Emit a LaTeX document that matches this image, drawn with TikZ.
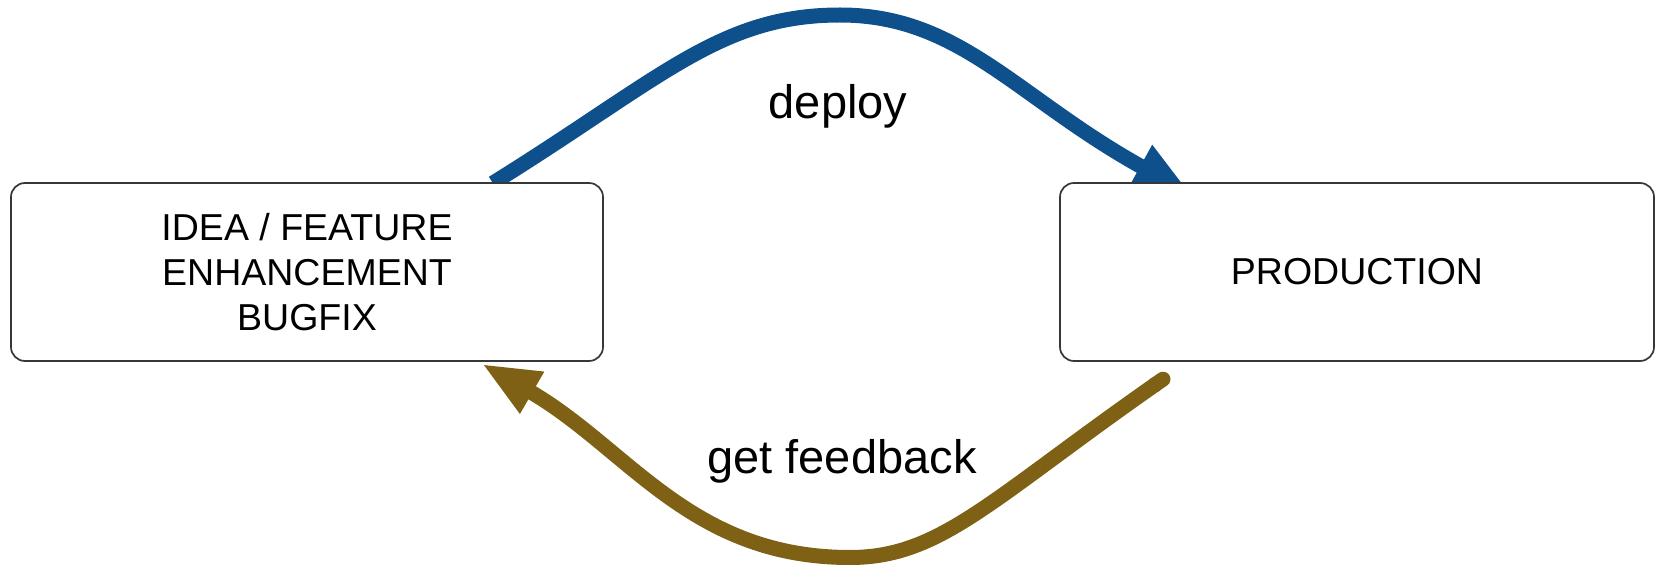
\documentclass[tikz,border=0pt]{standalone}
\usepackage{fontspec}
\setmainfont{Liberation Sans}
\usetikzlibrary{arrows.meta,backgrounds}
\definecolor{deployblue}{RGB}{13,80,140}
\definecolor{feedbrown}{RGB}{126,97,21}
\definecolor{boxline}{RGB}{55,55,55}
\tikzset{
  stage/.style={draw=boxline, line width=1.7pt, rounded corners=14pt, fill=white,
    minimum width=592pt, minimum height=178pt, inner sep=0pt, align=center,
    font=\fontsize{37.5}{45.4}\selectfont},
  flowlabel/.style={font=\fontsize{47}{56}\selectfont, inner sep=0pt},
  flowtip/.style={-{Triangle[length=58pt,width=44pt]}},
  flow/.style={line width=15pt},
}
\begin{document}
\begin{tikzpicture}[x=1pt,y=1pt]
  \useasboundingbox (0,0) rectangle (1657,568);
  \node[stage] (idea) at (307,296) {IDEA / FEATURE\\ENHANCEMENT\\BUGFIX};
  \node[stage, minimum width=594pt] (prod) at (1357,296) {PRODUCTION};
  % connector ends, placed relative to the two boxes
  \coordinate (dstart) at ([xshift=-111pt,yshift=-1pt]idea.north east);
  \coordinate (dend) at ([xshift=132pt,yshift=-12pt]prod.north west);
  \coordinate (fstart) at ([xshift=110pt,yshift=-13pt]prod.south west);
  \coordinate (fend) at ([xshift=-122pt,yshift=-2pt]idea.south east);
  \begin{scope}[on background layer]
    % deploy: rises from the idea box, over the top, into production
    \draw[flow, flowtip, deployblue]
      (dstart) .. controls (662,490) and (720,553) .. (840,553)
               .. controls (960,553) and (1017,470) .. (dend);
    % feedback: from under production, down and back up to the idea box
    \draw[flow, feedbrown, {Round Cap}-{Triangle[length=58pt,width=44pt]}]
      (fstart) .. controls (990,68) and (940,10.5) .. (850,10.5)
               .. controls (690,10.5) and (628,120) .. (fend);
  \end{scope}
  \node[flowlabel] (deploy) at (838,462) {deploy};
  \node[flowlabel] (feedback) at (842,107) {get feedback};
\end{tikzpicture}
\end{document}
